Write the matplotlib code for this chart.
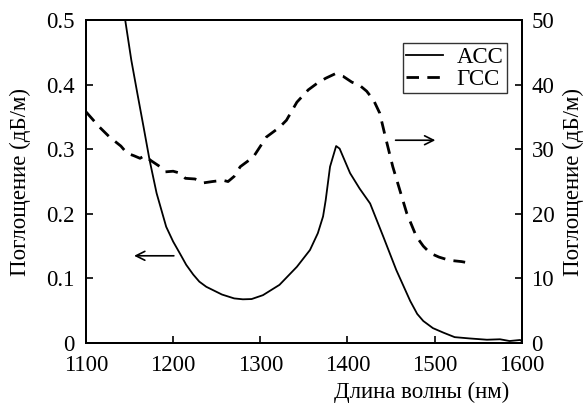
"""Absorption spectra of two fibre samples, two y axes."""

import matplotlib
matplotlib.use('Agg')
import matplotlib.pyplot as plt

plt.rcParams['font.family'] = ['Liberation Serif', 'DejaVu Serif']

# ACC, left axis (dB/m)
acc_wl = [1145, 1152, 1159, 1166, 1173, 1181, 1192, 1200, 1208, 1215, 1223, 1230,
          1238, 1256, 1270, 1280, 1290, 1303, 1322, 1342, 1357, 1366, 1372, 1375,
          1380, 1387, 1391, 1403, 1414, 1426, 1441, 1456, 1472, 1480, 1487, 1498,
          1510, 1523, 1540, 1560, 1575, 1586, 1598, 1600]
acc_val = [0.5, 0.438, 0.386, 0.335, 0.283, 0.232, 0.180, 0.157, 0.138, 0.121, 0.106, 0.095,
           0.087, 0.075, 0.069, 0.0676, 0.068, 0.074, 0.090, 0.118, 0.144, 0.170, 0.196, 0.221,
           0.273, 0.305, 0.301, 0.263, 0.239, 0.216, 0.165, 0.113, 0.065, 0.045, 0.034, 0.023,
           0.016, 0.009, 0.007, 0.005, 0.0057, 0.003, 0.0046, 0.003]

# GCC, right axis (dB/m)
gcc_wl = [1100, 1115, 1127, 1140, 1147, 1155, 1162, 1167, 1175, 1185, 1191, 1200,
          1208, 1214, 1225, 1235, 1245, 1257, 1263, 1270, 1277, 1292, 1307, 1322,
          1330, 1342, 1355, 1365, 1375, 1386, 1395, 1405, 1414, 1422, 1430, 1437,
          1443, 1452, 1460, 1468, 1479, 1487, 1495, 1505, 1517, 1531, 1535]
gcc_val = [35.8, 33.5, 31.9, 30.5, 29.4, 29.0, 28.6, 29.0, 28.2, 27.3, 26.5, 26.6,
           26.3, 25.5, 25.4, 24.8, 25.0, 25.2, 25.0, 25.8, 27.3, 28.8, 31.9, 33.4,
           34.5, 37.3, 39.2, 40.2, 41.0, 41.7, 41.3, 40.4, 39.9, 39.0, 37.6, 35.6,
           32.2, 27.3, 23.7, 20.1, 16.5, 15.0, 13.9, 13.3, 12.8, 12.6, 12.5]

fig, ax = plt.subplots(figsize=(5.83, 4.03), dpi=100)
fig.subplots_adjust(left=0.1475, right=0.895, top=0.950, bottom=0.149)
ax2 = ax.twinx()

l1, = ax.plot(acc_wl, acc_val, color='black', linewidth=1.3, label='ACC')
l2, = ax2.plot(gcc_wl, gcc_val, color='black', linewidth=2.0,
               linestyle=(0, (4.5, 3.0)), label='ГСС')

ax.set_xlim(1100, 1600)
ax.set_ylim(0, 0.5)
ax2.set_ylim(0, 50)
ax.set_xticks([1100, 1200, 1300, 1400, 1500, 1600])
ax.set_yticks([0, 0.1, 0.2, 0.3, 0.4, 0.5])
ax.set_yticklabels(['0', '0.1', '0.2', '0.3', '0.4', '0.5'])
ax2.set_yticks([0, 10, 20, 30, 40, 50])

for a in (ax, ax2):
    a.tick_params(direction='in', length=5, width=1.2, labelsize=16.5)
    for s in a.spines.values():
        s.set_linewidth(1.4)
ax.tick_params(axis='x', pad=9)
ax.tick_params(axis='y', pad=8)
ax2.tick_params(axis='y', pad=7)

ax.set_xlabel('Длина волны (нм)', fontsize=16.5)
ax.xaxis.set_label_coords(0.77, -0.12)
ax.set_ylabel('Поглощение (дБ/м)', fontsize=16.5, labelpad=11)
ax2.set_ylabel('Поглощение (дБ/м)', fontsize=16.5, labelpad=6)

# arrows telling which axis each curve belongs to
ax.annotate('', xy=(1152, 0.135), xytext=(1204, 0.135),
            arrowprops=dict(arrowstyle='->', color='black', lw=1.2,
                            mutation_scale=16))
ax.annotate('', xy=(1504, 0.314), xytext=(1452, 0.314),
            arrowprops=dict(arrowstyle='->', color='black', lw=1.2,
                            mutation_scale=16))

leg = ax2.legend([l1, l2], ['ACC', 'ГСС'], loc='upper right',
                 bbox_to_anchor=(0.966, 0.929), fontsize=16.5, frameon=True,
                 fancybox=False, edgecolor='black', handlelength=1.6,
                 borderpad=0.15, labelspacing=0.05, handletextpad=0.6,
                 borderaxespad=0)
leg.get_frame().set_linewidth(1.0)

fig.savefig('out.png', dpi=100)
